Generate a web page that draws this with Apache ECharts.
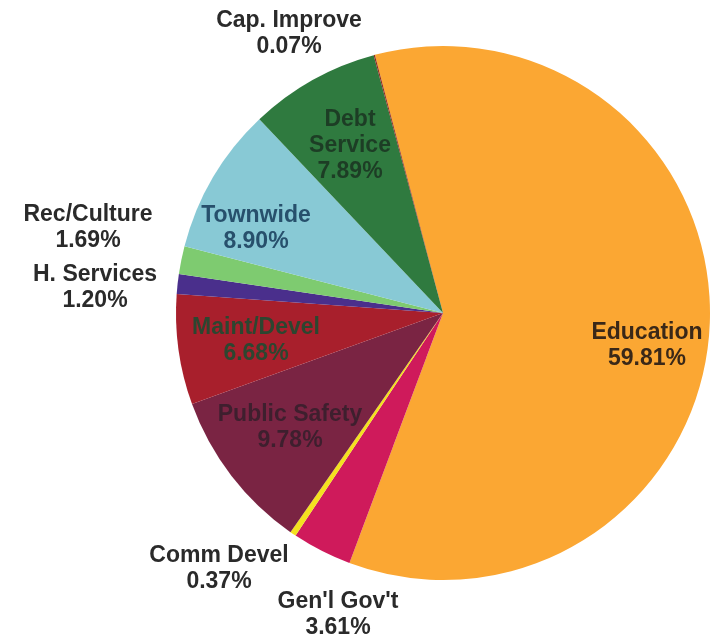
<!DOCTYPE html>
<html>
<head>
<meta charset="utf-8">
<script src="https://cdn.jsdelivr.net/npm/echarts@6/dist/echarts.min.js"></script>
<style>
  html, body { margin: 0; padding: 0; background: #ffffff; }
  #chart { width: 712px; height: 640px; }
</style>
</head>
<body>
<div id="chart"></div>
<script>
// Budget share by function, in clockwise order starting at Education
const categories = ['Education', "Gen'l Gov't", 'Comm Devel', 'Public Safety', 'Maint/Devel',
                    'H. Services', 'Rec/Culture', 'Townwide', 'Debt Service', 'Cap. Improve'];
const shares = [59.81, 3.61, 0.37, 9.78, 6.68, 1.20, 1.69, 8.90, 7.89, 0.07];
// Text shown for each slice label (line breaks as printed)
const labelNames = ['Education', "Gen'l Gov't", 'Comm Devel', 'Public Safety', 'Maint/Devel',
                    'H. Services', 'Rec/Culture', 'Townwide', 'Debt\nService', 'Cap. Improve'];

// Slice fills and label text colours
const sliceColors = ['#FBA733', '#CF1A5B', '#F4E11F', '#7A2443', '#A81F2C',
                     '#4A2F8C', '#7ECB70', '#88C9D5', '#2F7A3F', '#8E2B1C'];
const labelColors = ['#3a2818', '#2a2a2a', '#2a2a2a', '#3e1f2e', '#2c4630',
                     '#2a2a2a', '#2a2a2a', '#27506c', '#1d3d25', '#2a2a2a'];

// Label centres as offsets from the pie centre (px)
const labelOffsets = [[204, 33], [-105, 302], [-224, 256], [-153, 115], [-187, 28],
                      [-348, -25], [-355, -85], [-187, -84], [-93, -167], [-154, -279]];

const CX = 443, CY = 313, R = 267;

const chart = echarts.init(document.getElementById('chart'), null, { renderer: 'canvas' });

chart.setOption({
  backgroundColor: '#ffffff',
  animation: false,
  series: [{
    type: 'pie',
    center: [CX, CY],
    radius: [0, R],
    startAngle: 104.8,
    clockwise: true,
    avoidLabelOverlap: false,
    itemStyle: { borderWidth: 0 },
    label: {
      show: true,
      position: 'inside',
      fontFamily: 'Arial',
      fontWeight: 'bold',
      fontSize: 23,
      lineHeight: 26,
      align: 'center',
      formatter: p => labelNames[p.dataIndex] + '\n' + shares[p.dataIndex].toFixed(2) + '%'
    },
    labelLine: { show: false },
    labelLayout: p => {
      const o = labelOffsets[p.dataIndex];
      return { x: CX + o[0], y: CY + o[1], align: 'center', verticalAlign: 'middle' };
    },
    data: categories.map((name, i) => ({
      name,
      value: shares[i],
      itemStyle: { color: sliceColors[i] },
      label: { color: labelColors[i] }
    }))
  }]
});
</script>
</body>
</html>
